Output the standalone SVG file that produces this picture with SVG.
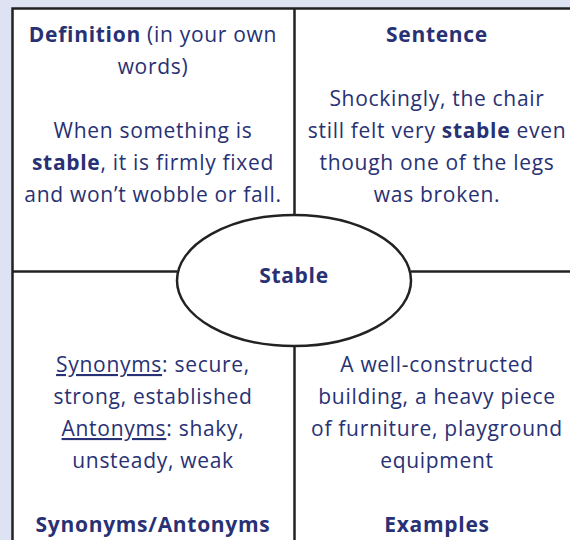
<svg xmlns="http://www.w3.org/2000/svg" width="570" height="540" viewBox="0 0 570 540">
<style>
text{font-family:"Open Sans","Noto Sans","Liberation Sans",sans-serif;font-size:21px;letter-spacing:0.7px;fill:#283173;text-anchor:middle}
.b{font-weight:bold}
.u{text-decoration:underline}
.ln{stroke:#222;stroke-width:2.5;fill:none}
</style>
<rect width="570" height="540" fill="#dde3f2"/>
<rect x="12.5" y="8.5" width="580" height="550" fill="#fff" stroke="#222" stroke-width="2.5"/>
<g id="connectors">
<line class="ln" x1="294.5" y1="8" x2="294.5" y2="215"/>
<line class="ln" x1="294.5" y1="346" x2="294.5" y2="540"/>
<line class="ln" x1="12" y1="271.5" x2="177" y2="271.5"/>
<line class="ln" x1="411" y1="271.5" x2="570" y2="271.5"/>
</g>
<g id="definition">
<text x="153" y="42"><tspan class="b">Definition</tspan> (in your own</text>
<text x="153" y="74">words)</text>
<text x="153" y="138">When something is</text>
<text x="153" y="170"><tspan class="b">stable</tspan>, it is firmly fixed</text>
<text x="153" y="202">and won’t wobble or fall.</text>
</g>
<g id="sentence">
<text x="437" y="42" class="b">Sentence</text>
<text x="437" y="106">Shockingly, the chair</text>
<text x="437" y="138">still felt very <tspan class="b">stable</tspan> even</text>
<text x="437" y="170">though one of the legs</text>
<text x="437" y="202">was broken.</text>
</g>
<g id="center">
<ellipse class="ln" cx="294" cy="280.5" rx="117" ry="65.5" fill="#fff"/>
<text x="294" y="283" class="b">Stable</text>
</g>
<g id="synonyms">
<text x="153" y="372"><tspan class="u">Synonyms</tspan>: secure,</text>
<text x="153" y="404">strong, established</text>
<text x="153" y="436"><tspan class="u">Antonyms</tspan>: shaky,</text>
<text x="153" y="468">unsteady, weak</text>
<text x="153" y="532" class="b">Synonyms/Antonyms</text>
</g>
<g id="examples">
<text x="437" y="372">A well-constructed</text>
<text x="437" y="404">building, a heavy piece</text>
<text x="437" y="436">of furniture, playground</text>
<text x="437" y="468">equipment</text>
<text x="437" y="532" class="b">Examples</text>
</g>
</svg>
